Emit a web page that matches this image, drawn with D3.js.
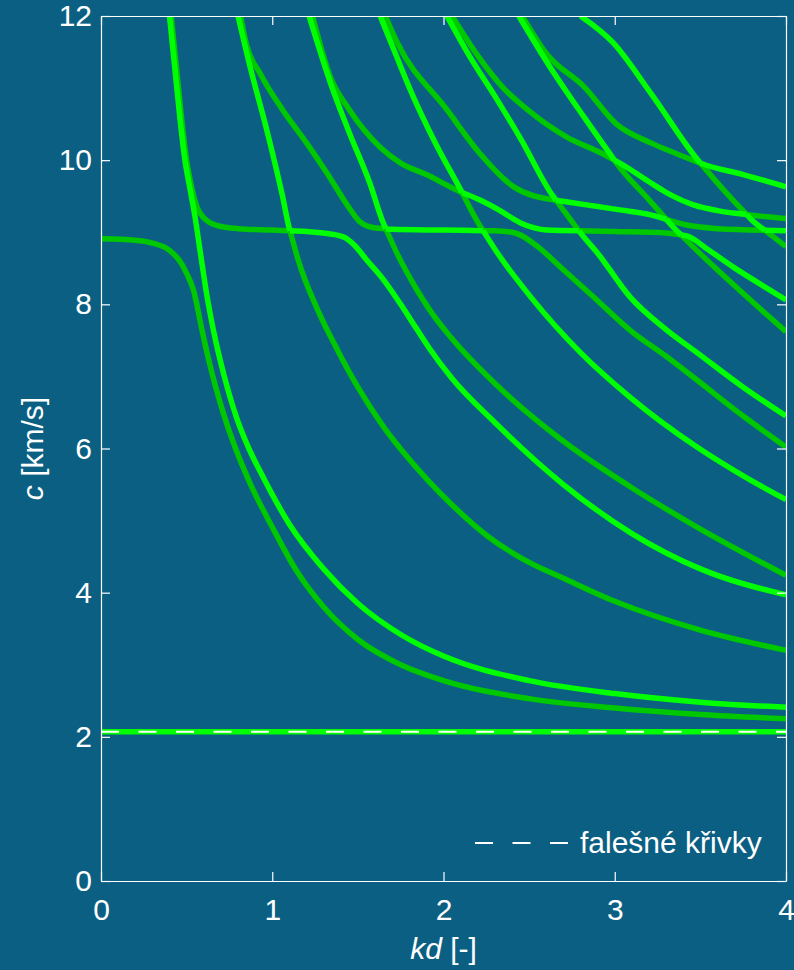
<!DOCTYPE html>
<html>
<head>
<meta charset="utf-8">
<script src="https://cdn.jsdelivr.net/npm/d3@7"></script>
<style>
  html, body { margin: 0; padding: 0; background: #0b5f83; }
  svg { display: block; }
  text { font-family: "Liberation Sans", Arial, Helvetica, sans-serif; fill: #fff; }
</style>
</head>
<body>
<svg id="chart" width="794" height="970"></svg>
<script>
// tick values
const kdTicks = [0, 1, 2, 3, 4];
const cTicks = [0, 2, 4, 6, 8, 10, 12];

// dispersion branches [kd, c]
const falseCurve = [[0, 2.07], [4, 2.07]];
const u2 = [[0, 8.91], [0.2, 8.89], [0.3, 8.85], [0.4, 8.75], [0.46, 8.6], [0.5, 8.43], [0.54, 8.2], [0.59, 7.64], [0.63, 7.22],
  [0.67, 6.85], [0.72, 6.45], [0.77, 6.1], [0.87, 5.52], [1.0, 4.91], [1.14, 4.31], [1.3, 3.8], [1.5, 3.35], [1.75, 3.0],
  [2.0, 2.78], [2.5, 2.53], [3.0, 2.4], [3.5, 2.31], [4.0, 2.25]];
const s1 = [[0.40, 12], [0.43, 11.3], [0.46, 10.6], [0.49, 10.0], [0.52, 9.6], [0.55, 9.2], [0.58, 8.72], [0.62, 8.1],
  [0.66, 7.6], [0.72, 7.0], [0.79, 6.44], [0.86, 6.02], [0.93, 5.68], [1.1, 4.95], [1.3, 4.33], [1.5, 3.85], [1.75, 3.42],
  [2.0, 3.12], [2.5, 2.78], [3.0, 2.6], [3.5, 2.48], [4.0, 2.41]];
const a1 = [[0.41, 12], [0.44, 11.3], [0.47, 10.6], [0.50, 10.0], [0.53, 9.62], [0.56, 9.35], [0.6, 9.2], [0.67, 9.1],
  [0.8, 9.05], [1.0, 9.03], [1.2, 9.01], [1.33, 8.98], [1.42, 8.93], [1.48, 8.82], [1.55, 8.62], [1.65, 8.34], [1.75, 8.0],
  [1.84, 7.67], [1.92, 7.38], [2.05, 6.97], [2.3, 6.36], [2.7, 5.5], [3.1, 4.82], [3.5, 4.33], [4.0, 3.97]];
const s2 = [[0.80, 12], [0.87, 11.3], [0.97, 10.4], [1.06, 9.5], [1.10, 9.05], [1.16, 8.55], [1.27, 7.9], [1.38, 7.37],
  [1.5, 6.85], [1.65, 6.3], [1.8, 5.85], [1.92, 5.53], [2.04, 5.24], [2.26, 4.78], [2.5, 4.42], [2.7, 4.2], [3.0, 3.88],
  [3.5, 3.48], [4.0, 3.2]];
const l1 = [[0.815, 12], [0.85, 11.6], [0.93, 11.2], [1.06, 10.7], [1.2, 10.24], [1.32, 9.82], [1.44, 9.37], [1.51, 9.15],
  [1.58, 9.07], [1.7, 9.04], [2.0, 9.03], [2.3, 9.02], [2.4, 9.0], [2.45, 8.96], [2.55, 8.8], [2.7, 8.48], [2.9, 8.05],
  [3.09, 7.64], [3.3, 7.28], [3.48, 6.95], [3.75, 6.45], [4.0, 6.02]];
const s3 = [[1.215, 12], [1.34, 11.07], [1.45, 10.38], [1.57, 9.68], [1.65, 9.12], [1.73, 8.7], [1.84, 8.22], [1.92, 7.92],
  [2.04, 7.55], [2.31, 6.88], [2.7, 6.1], [3.09, 5.47], [3.48, 4.91], [4.0, 4.24]];
const l2 = [[1.235, 12], [1.34, 11.15], [1.45, 10.7], [1.63, 10.18], [1.75, 9.96], [1.9, 9.8], [2.1, 9.56], [2.21, 9.45],
  [2.33, 9.3], [2.45, 9.13], [2.53, 9.06], [2.6, 9.03], [3.0, 9.01], [3.3, 8.99], [3.42, 8.95], [3.55, 8.75], [3.69, 8.52],
  [3.85, 8.28], [4.0, 8.06]];
const s4 = [[1.63, 12], [1.69, 11.65], [1.82, 10.9], [1.95, 10.25], [2.1, 9.59], [2.21, 9.1], [2.31, 8.73], [2.51, 8.1],
  [2.8, 7.33], [3.09, 6.71], [3.48, 6.02], [3.75, 5.62], [4.0, 5.29]];
const l3 = [[1.66, 12], [1.73, 11.63], [2.02, 10.7], [2.21, 10.1], [2.41, 9.63], [2.64, 9.45], [3.03, 9.31], [3.21, 9.24],
  [3.42, 9.1], [3.6, 9.05], [4.0, 9.02]];
const s5 = [[2.02, 12], [2.15, 11.45], [2.31, 10.85], [2.45, 10.3], [2.64, 9.5], [2.8, 8.99], [2.9, 8.71], [3.09, 8.1],
  [3.3, 7.65], [3.48, 7.33], [3.75, 6.85], [4.0, 6.45]];
const l4 = [[2.05, 12], [2.2, 11.45], [2.35, 11.0], [2.49, 10.7], [2.72, 10.32], [2.92, 10.1], [3.03, 9.96], [3.2, 9.7],
  [3.31, 9.54], [3.46, 9.38], [3.6, 9.3], [3.79, 9.24], [4.0, 9.19]];
const s6 = [[2.44, 12], [2.62, 11.3], [2.82, 10.6], [3.01, 9.96], [3.2, 9.45], [3.35, 9.05], [3.5, 8.7], [3.75, 8.15],
  [4.0, 7.62]];
const l5 = [[2.46, 12], [2.6, 11.48], [2.82, 11.02], [3.01, 10.5], [3.21, 10.24], [3.35, 10.1], [3.51, 9.95], [3.75, 9.8],
  [4.0, 9.63]];
const s7 = [[2.8, 12], [2.99, 11.63], [3.21, 10.93], [3.5, 9.96], [3.65, 9.55], [3.8, 9.17], [4.0, 8.8]];

const branches = [falseCurve, u2, s1, a1, s2, l1, s3, l2, s4, l3, s5, l4, s6, l5, s7];

const legendLabel = 'falešné křivky';

const margin = { top: 16, right: 8, bottom: 89, left: 101 };
const svg = d3.select('#chart');

const x = d3.scaleLinear().domain([0, 4]).range([margin.left, 786]);
const y = d3.scaleLinear().domain([0, 12]).range([881, margin.top]);

const bright = '#00ff00', dark = '#00c800';

// --- split every branch where it crosses another one; colour by order (mode number) ---
function valueAt(curve, kd) {
  if (kd < curve[0][0]) return Infinity;
  for (let k = 0; k < curve.length - 1; k++) {
    const p = curve[k], q = curve[k + 1];
    if (kd >= p[0] && kd <= q[0]) return p[1] + (q[1] - p[1]) * (kd - p[0]) / (q[0] - p[0]);
  }
  return curve[curve.length - 1][1];
}

function pointAt(curve, pos) {
  const k = Math.floor(pos);
  if (k >= curve.length - 1) return curve[curve.length - 1];
  const t = pos - k, p = curve[k], q = curve[k + 1];
  return [p[0] + (q[0] - p[0]) * t, p[1] + (q[1] - p[1]) * t];
}

const cuts = branches.map(() => []);
for (let i = 0; i < branches.length; i++) {
  for (let j = i + 1; j < branches.length; j++) {
    const A = branches[i], B = branches[j];
    for (let a = 0; a < A.length - 1; a++) {
      for (let b = 0; b < B.length - 1; b++) {
        const p1 = A[a], p2 = A[a + 1], p3 = B[b], p4 = B[b + 1];
        const d = (p2[0] - p1[0]) * (p4[1] - p3[1]) - (p2[1] - p1[1]) * (p4[0] - p3[0]);
        if (d === 0) continue;
        const t = ((p3[0] - p1[0]) * (p4[1] - p3[1]) - (p3[1] - p1[1]) * (p4[0] - p3[0])) / d;
        const u = ((p3[0] - p1[0]) * (p2[1] - p1[1]) - (p3[1] - p1[1]) * (p2[0] - p1[0])) / d;
        if (t > 0 && t < 1 && u > 0 && u < 1) {
          cuts[i].push(a + t);
          cuts[j].push(b + u);
        }
      }
    }
  }
}

const pieces = [];
branches.forEach((curve, i) => {
  const bounds = [0, ...cuts[i].sort((m, n) => m - n), curve.length - 1];
  for (let k = 0; k < bounds.length - 1; k++) {
    const s = bounds[k], e = bounds[k + 1];
    if (e - s < 1e-6) continue;
    const pts = [pointAt(curve, s)];
    for (let v = Math.floor(s) + 1; v < e; v++) pts.push(curve[v]);
    pts.push(pointAt(curve, e));
    const mid = pointAt(curve, (s + e) / 2);
    let rank = 0;
    branches.forEach((other, j) => { if (j !== i && valueAt(other, mid[0]) < mid[1]) rank++; });
    pieces.push({ pts, color: rank % 2 === 0 ? bright : dark });
  }
});

svg.append('defs').append('clipPath').attr('id', 'plotClip')
  .append('rect').attr('x', x(0)).attr('y', y(12)).attr('width', x(4) - x(0)).attr('height', y(0) - y(12));

const line = d3.line().x(d => x(d[0])).y(d => y(d[1])).curve(d3.curveMonotoneX);
const plot = svg.append('g').attr('clip-path', 'url(#plotClip)');

plot.selectAll('path.dark')
  .data(pieces.filter(p => p.color === dark))
  .enter().append('path')
  .attr('class', 'dark')
  .attr('d', d => line(d.pts))
  .attr('fill', 'none').attr('stroke', dark).attr('stroke-width', 5.5)
  .attr('stroke-linejoin', 'round');

plot.selectAll('path.bright')
  .data(pieces.filter(p => p.color === bright))
  .enter().append('path')
  .attr('class', 'bright')
  .attr('d', d => line(d.pts))
  .attr('fill', 'none').attr('stroke', bright).attr('stroke-width', 5.5)
  .attr('stroke-linejoin', 'round');

// false curve overlay
plot.append('path')
  .attr('d', d3.line().x(d => x(d[0])).y(d => y(d[1]))(falseCurve))
  .attr('fill', 'none').attr('stroke', '#fff').attr('stroke-width', 2)
  .attr('stroke-dasharray', '18,19.5');

// --- axes box ---
const axisG = svg.append('g').attr('class', 'axes');
const xAxis = d3.axisBottom(x).tickValues(kdTicks).tickFormat(d3.format('d'))
  .tickSizeInner(-9).tickSizeOuter(0).tickPadding(18);
const yAxis = d3.axisLeft(y).tickValues(cTicks).tickFormat(d3.format('d'))
  .tickSizeInner(-9).tickSizeOuter(0).tickPadding(9);
const xTop = d3.axisTop(x).tickValues(kdTicks).tickSizeInner(-9).tickSizeOuter(0).tickFormat('');
const yRight = d3.axisRight(y).tickValues(cTicks).tickSizeInner(-9).tickSizeOuter(0).tickFormat('');

axisG.append('g').attr('transform', `translate(0,${y(0)})`).call(xAxis);
axisG.append('g').attr('transform', `translate(${x(0)},0)`).call(yAxis);
axisG.append('g').attr('transform', `translate(0,${y(12)})`).call(xTop);
axisG.append('g').attr('transform', `translate(${x(4)},0)`).call(yRight);

axisG.selectAll('.domain').attr('stroke', '#fff').attr('stroke-width', 1.2);
axisG.selectAll('.tick line').attr('stroke', '#fff').attr('stroke-width', 1.2);
axisG.selectAll('.tick text')
  .attr('fill', '#fff')
  .style('font-family', '"Liberation Sans", Arial, sans-serif')
  .style('font-size', '30px');

// axis titles
const xTitle = svg.append('text')
  .attr('x', (x(0) + x(4)) / 2).attr('y', 959)
  .attr('text-anchor', 'middle').style('font-size', '30px');
xTitle.append('tspan').style('font-style', 'italic').text('kd');
xTitle.append('tspan').text(' [-]');

const yTitle = svg.append('text')
  .attr('transform', `translate(43,${(y(0) + y(12)) / 2}) rotate(-90)`)
  .attr('text-anchor', 'middle').style('font-size', '30px');
yTitle.append('tspan').style('font-style', 'italic').text('c');
yTitle.append('tspan').text(' [km/s]');

// legend
const legend = svg.append('g').attr('transform', 'translate(475,843)');
legend.append('line')
  .attr('x1', 0).attr('x2', 93).attr('y1', 0).attr('y2', 0)
  .attr('stroke', '#fff').attr('stroke-width', 2).attr('stroke-dasharray', '18,19.5');
legend.append('text')
  .attr('x', 105).attr('y', 10)
  .style('font-size', '30px')
  .text(legendLabel);
</script>
</body>
</html>
